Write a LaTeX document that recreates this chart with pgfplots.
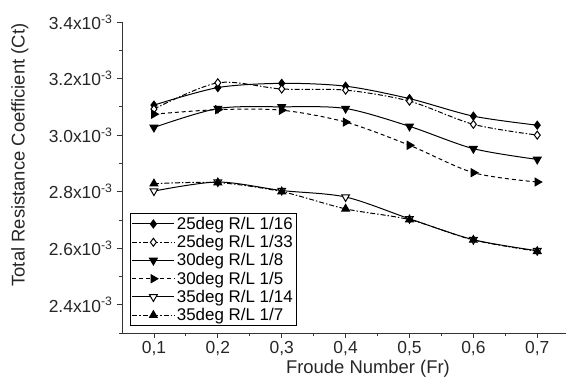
\documentclass[border=0pt]{standalone}
\usepackage{fontspec}
\setmainfont{Liberation Sans}
\usepackage{pgfplots}
\pgfplotsset{compat=1.18}
\begin{document}
\begin{tikzpicture}
\useasboundingbox (-122bp,-57bp) rectangle (444bp,333bp);
\begin{axis}[
  scale only axis,
  width=444bp, height=311bp,
  xmin=0.05, xmax=0.745, ymin=2.3, ymax=3.4,
  axis x line*=bottom, axis y line*=left,
  axis line style={black!80, line width=0.8pt, -},
  xtick={0.1,0.2,0.3,0.4,0.5,0.6,0.7},
  xticklabels={{0,1},{0,2},{0,3},{0,4},{0,5},{0,6},{0,7}},
  minor xtick={0.15,0.25,0.35,0.45,0.55,0.65},
  ytick={2.4,2.6,2.8,3.0,3.2,3.4},
  yticklabels={2.4x10\textsuperscript{-3},2.6x10\textsuperscript{-3},2.8x10\textsuperscript{-3},3.0x10\textsuperscript{-3},3.2x10\textsuperscript{-3},3.4x10\textsuperscript{-3}},
  minor ytick={2.3,2.5,2.7,2.9,3.1,3.3},
  tick style={black!80, line width=0.8pt},
  major tick length=5bp, minor tick length=3bp,
  tick align=outside,
  ticklabel style={font=\fontsize{17.5}{19}\selectfont, text=black!85},
  xticklabel style={yshift=0.5bp},
  yticklabel style={xshift=-1bp},
  xlabel={Froude Number (Fr)},
  ylabel={Total Resistance Coefficient (Ct)},
  label style={font=\fontsize{18.5}{20}\selectfont, text=black!85},
  xlabel style={at={(axis description cs:0.554,-0.115)}, anchor=center},
  ylabel style={at={(axis description cs:-0.23,0.572)}, anchor=center},
  legend style={at={(axis description cs:0.018,0.0225)}, anchor=south west,
    draw=black, line width=0.8pt, font=\fontsize{17}{18}\selectfont,
    inner sep=1.5pt, row sep=0.5pt, cells={anchor=west}},
  legend image code/.code={\draw[#1] (0bp,0bp) -- (21bp,0bp) (21bp,0bp) -- (42bp,0bp); \draw[#1, solid] plot coordinates {(21bp,0bp)};},
  every axis plot/.append style={black, line width=1pt, smooth, tension=0.5},
]
\addplot[solid, mark=diamond*, mark size=4pt, mark options={solid, fill=black}] coordinates {
(0.1,3.106) (0.2,3.168) (0.3,3.183) (0.4,3.173) (0.5,3.129) (0.6,3.067) (0.7,3.035)};
\addlegendentry{25deg R/L 1/16}
\addplot[dash pattern=on 5pt off 2pt on 1.5pt off 2pt, mark=diamond*, mark size=4pt, mark options={solid, fill=white}] coordinates {
(0.1,3.092) (0.2,3.185) (0.3,3.163) (0.4,3.159) (0.5,3.120) (0.6,3.038) (0.7,3.000)};
\addlegendentry{25deg R/L 1/33}
\addplot[solid, mark=triangle*, mark size=4.5pt, mark options={solid, fill=black, rotate=180}] coordinates {
(0.1,3.027) (0.2,3.094) (0.3,3.100) (0.4,3.094) (0.5,3.031) (0.6,2.952) (0.7,2.914)};
\addlegendentry{30deg R/L 1/8}
\addplot[dash pattern=on 4pt off 3pt, mark=triangle*, mark size=4.5pt, mark options={solid, fill=black, rotate=-90}] coordinates {
(0.1,3.074) (0.2,3.090) (0.3,3.088) (0.4,3.046) (0.5,2.964) (0.6,2.867) (0.7,2.834)};
\addlegendentry{30deg R/L 1/5}
\addplot[solid, mark=triangle*, mark size=4.5pt, mark options={solid, fill=white, rotate=180}] coordinates {
(0.1,2.802) (0.2,2.834) (0.3,2.804) (0.4,2.781) (0.5,2.704) (0.6,2.630) (0.7,2.591)};
\addlegendentry{35deg R/L 1/14}
\addplot[dash pattern=on 5pt off 2pt on 1.5pt off 2pt, mark=triangle*, mark size=4.5pt, mark options={solid, fill=black}] coordinates {
(0.1,2.828) (0.2,2.832) (0.3,2.800) (0.4,2.739) (0.5,2.701) (0.6,2.629) (0.7,2.589)};
\addlegendentry{35deg R/L 1/7}
\end{axis}
\end{tikzpicture}
\end{document}
